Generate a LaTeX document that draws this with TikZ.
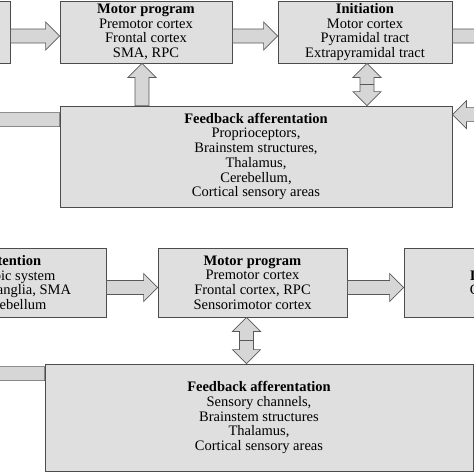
\documentclass[tikz,border=0pt]{standalone}
\usepackage{fontspec}
\setmainfont{Liberation Serif}
\usetikzlibrary{calc}

\newcommand{\shaftw}{7pt}
\newcommand{\headw}{14pt}
\newcommand{\headlen}{14pt}

% fat arrow: from #1 to #2
\newcommand{\fatarrow}[2]{%
\coordinate (fa-s) at (#1);
\coordinate (fa-t) at (#2);
\coordinate (fa-h) at ($(fa-t)!\headlen!(fa-s)$);
\draw [arrowbody] ($(fa-s)!\shaftw!90:(fa-t)$) -- ($(fa-h)!\shaftw!90:(fa-t)$) -- ($(fa-h)!\headw!90:(fa-t)$) -- (fa-t)
  -- ($(fa-h)!\headw!-90:(fa-t)$) -- ($(fa-h)!\shaftw!-90:(fa-t)$) -- ($(fa-s)!\shaftw!-90:(fa-t)$) -- cycle;}

% fat double arrow between #1 and #2
\newcommand{\fatdarrow}[2]{%
\coordinate (fa-s) at (#1);
\coordinate (fa-t) at (#2);
\coordinate (fa-hs) at ($(fa-s)!\headlen!(fa-t)$);
\coordinate (fa-ht) at ($(fa-t)!\headlen!(fa-s)$);
\coordinate (fa-m) at ($(fa-s)!.5!(fa-t)$);
\draw [arrowbody] (fa-s) -- ($(fa-hs)!\headw!90:(fa-t)$) -- ($(fa-hs)!\shaftw!90:(fa-t)$) -- ($(fa-ht)!\shaftw!90:(fa-t)$) -- ($(fa-ht)!\headw!90:(fa-t)$) -- (fa-t)
  -- ($(fa-ht)!\headw!-90:(fa-t)$) -- ($(fa-ht)!\shaftw!-90:(fa-t)$) -- ($(fa-hs)!\shaftw!-90:(fa-t)$) -- ($(fa-hs)!\headw!-90:(fa-t)$) -- cycle;
\draw [arrowbody, fill=none] ($(fa-m)!\shaftw!90:(fa-t)$) -- ($(fa-m)!\shaftw!-90:(fa-t)$);}

\begin{document}
\begin{tikzpicture}[x=1pt, y=-1pt,
block/.style={draw=black!70, fill=gray!25, line width=.8pt, align=center, inner sep=0pt, font=\fontsize{14.5}{14.7}\selectfont},
arrowbody/.style={draw=black!65, fill=gray!32, line width=.7pt, line join=miter}]


%%%%%% SETTINGS %%%%%%%%%%

\useasboundingbox (0,0) rectangle (474,474);
\clip (0,0) rectangle (474,474);

%%%%%% UPPER CHAIN %%%%%%%%%%

\node [block, minimum width=180pt, minimum height=62pt] (int1) at (-80,32) {};
\node [block, minimum width=172pt, minimum height=62pt] (mp1) at (146,32) {\textbf{Motor program}\\ Premotor cortex\\ Frontal cortex\\ SMA, RPC};
\node [block, minimum width=174pt, minimum height=62pt] (init1) at (365,32) {\textbf{Initiation}\\ Motor cortex\\ Pyramidal tract\\ Extrapyramidal tract};
\node [block, minimum width=392pt, minimum height=101pt] (fb1) at (256,156.5) {\textbf{Feedback afferentation}\\ Proprioceptors,\\ Brainstem structures,\\ Thalamus,\\ Cerebellum,\\ Cortical sensory areas};

\fatarrow{$(int1.east)+(0,4)$}{$(mp1.west)+(0,4)$}
\fatarrow{$(mp1.east)+(0,4)$}{$(init1.west)+(0,4)$}
\fatarrow{$(init1.east)+(0,4)$}{$(init1.east)+(50,4)$}
\fatarrow{$(mp1.south |- fb1.north)+(-4,0)$}{$(mp1.south)+(-4,0)$}
\fatdarrow{$(init1.south)+(2,0)$}{$(init1.south |- fb1.north)+(2,0)$}
\fatarrow{$(fb1.north east)+(50,9)$}{$(fb1.north east)+(0,9)$}
\fatarrow{$(fb1.north west)+(0,14)$}{$(fb1.north west)+(-80,14)$}

%%%%%% LOWER CHAIN %%%%%%%%%%

\node [block, minimum width=187pt, minimum height=69pt] (int2) at (12.5,282.5) {\textbf{Intention}\\ Limbic system\\ Basal ganglia, SMA\\ Cerebellum};
\node [block, minimum width=189pt, minimum height=69pt] (mp2) at (252.5,282.5) {\textbf{Motor program}\\ Premotor cortex\\ Frontal cortex, RPC\\ Sensorimotor cortex};
\node [block, align=left, minimum width=190pt, minimum height=69pt] (init2) at (499,282.5) {\textbf{Initiation}\\ Cortex};
\node [block, minimum width=428pt, minimum height=107pt] (fb2) at (259,417.5) {\textbf{Feedback afferentation}\\ Sensory channels,\\ Brainstem structures\\ Thalamus,\\ Cortical sensory areas};

\fatarrow{$(int2.east)+(0,5)$}{$(mp2.west)+(0,5)$}
\fatarrow{$(mp2.east)+(0,5)$}{$(init2.west)+(0,5)$}
\fatdarrow{$(mp2.south)+(-6,0)$}{$(mp2.south |- fb2.north)+(-6,0)$}
\fatarrow{$(fb2.north west)+(0,10)$}{$(fb2.north west)+(-80,10)$}

\end{tikzpicture}
\end{document}
